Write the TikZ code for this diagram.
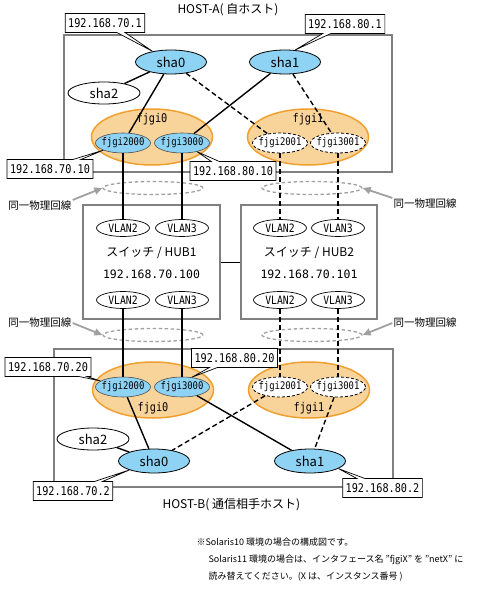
\documentclass[tikz,border=0pt]{standalone}
\usepackage{fontspec}
\setmainfont{Noto Sans CJK JP}
\newfontfamily\monofont[FakeStretch=0.85]{DejaVu Sans Mono}
\newfontfamily\ipfont{DejaVu Sans Mono}
\usetikzlibrary{shapes.geometric}
\usetikzlibrary{shapes.callouts}
\usetikzlibrary{arrows.meta}

\definecolor{shablue}{HTML}{8FD3F4}
\definecolor{grpfill}{HTML}{F9D49A}
\definecolor{grpline}{HTML}{F0A030}
\definecolor{boxgray}{HTML}{808080}
\definecolor{bungray}{HTML}{A0A0A0}

\newcommand{\zw}[1]{\makebox[0pt]{#1}}

\tikzset{
	hostbox/.style={draw=boxgray, line width=1.2pt, inner sep=0pt},
	shanode/.style={ellipse, draw, line width=0.8pt, fill=shablue, minimum width=71pt, minimum height=24pt, inner sep=0pt, font=\fontsize{13}{14}\selectfont},
	virtnode/.style={shanode, fill=white, minimum width=72pt, minimum height=22pt},
	grpnode/.style={ellipse, draw=grpline, line width=1.5pt, fill=grpfill, minimum width=121pt, minimum height=56pt, inner sep=0pt},
	grplabel/.style={font=\monofont\fontsize{12}{13}\selectfont, inner sep=0pt},
	portnode/.style={ellipse, draw=black!70, line width=0.6pt, fill=shablue, minimum width=55pt, minimum height=20pt, inner sep=0pt, font=\monofont\fontsize{10.5}{11}\selectfont},
	standbynode/.style={portnode, fill=white, draw=black, line width=0.8pt, dash pattern=on 3pt off 2pt},
	vlannode/.style={ellipse, draw, line width=0.7pt, fill=white, minimum width=53pt, minimum height=17pt, inner sep=0pt, font=\monofont\fontsize{11.5}{12}\selectfont},
	iptext/.style={font=\ipfont\fontsize{11.5}{12}\selectfont, inner sep=0pt},
	ipbox/.style={rectangle callout, draw, line width=0.7pt, fill=white, callout pointer width=8pt, inner xsep=3pt, inner ysep=2pt, minimum height=19pt, font=\monofont\fontsize{12}{13}\selectfont},
	bundle/.style={ellipse, draw=bungray, line width=1.3pt, dash pattern=on 3.5pt off 2.5pt, minimum width=100pt, minimum height=13pt},
	bunlabel/.style={font=\fontsize{10.5}{11}\selectfont, inner sep=1pt},
	bunarrow/.style={draw=bungray, line width=1.8pt, -{Triangle[length=8pt,width=7pt]}},
	active/.style={line width=1.4pt},
	standby/.style={line width=1.4pt, dash pattern=on 5pt off 3pt},
}

\begin{document}
\begin{tikzpicture}[x=1pt, y=-1pt]
	\useasboundingbox (0,0) rectangle (484,594);

	% hosts and switches
	\node[hostbox, minimum width=328pt, minimum height=137pt] (hosta) at (228,103.5) {};
	\node[hostbox, minimum width=339pt, minimum height=138pt] (hostb) at (223.5,418) {};
	\node[hostbox, minimum width=137pt, minimum height=114pt] (hub1) at (151.5,262) {};
	\node[hostbox, minimum width=136pt, minimum height=114pt] (hub2) at (309,262) {};
	\node[font=\fontsize{12}{13}\selectfont] (titlea) at (228,10) {HOST-A( 自ホスト)};
	\node[font=\fontsize{12}{13}\selectfont, anchor=west] (titleb) at (159,505) {HOST-B( 通信相手ホスト)};

	% HOST-A
	\node[shanode] (asha0) at (171,62) {sha0};
	\node[shanode] (asha1) at (285,62) {sha1};
	\node[virtnode] (asha2) at (104,93) {sha2};
	\node[grpnode] (agrp0) at (152,137) {};
	\node[grpnode] (agrp1) at (308,137) {};
	\node[grplabel] (agrp0l) at (152,119) {fjgi0};
	\node[grplabel] (agrp1l) at (308,119) {fjgi1};
	\node[portnode] (a2000) at (123,143) {\zw{fjgi2000}};
	\node[portnode] (a3000) at (182,143) {\zw{fjgi3000}};
	\node[standbynode] (a2001) at (280,143) {\zw{fjgi2001}};
	\node[standbynode] (a3001) at (338,143) {\zw{fjgi3001}};

	% switches
	\node[vlannode] (h1v2t) at (123,228) {VLAN2};
	\node[vlannode] (h1v3t) at (182,228) {VLAN3};
	\node[vlannode] (h1v2b) at (123,300) {VLAN2};
	\node[vlannode] (h1v3b) at (182,300) {VLAN3};
	\node[vlannode] (h2v2t) at (280,228) {VLAN2};
	\node[vlannode] (h2v3t) at (338,228) {VLAN3};
	\node[vlannode] (h2v2b) at (280,300) {VLAN2};
	\node[vlannode] (h2v3b) at (338,300) {VLAN3};
	\node[font=\fontsize{12}{13}\selectfont, inner sep=0pt] (hub1n) at (151.5,253) {スイッチ / HUB1};
	\node[iptext] (hub1ip) at (151.5,274) {192.168.70.100};
	\node[font=\fontsize{12}{13}\selectfont, inner sep=0pt] (hub2n) at (309,253) {スイッチ / HUB2};
	\node[iptext] (hub2ip) at (309,274) {192.168.70.101};

	% HOST-B
	\node[grpnode] (bgrp0) at (153,390) {};
	\node[grpnode] (bgrp1) at (309,390) {};
	\node[grplabel] (bgrp0l) at (153,408) {fjgi0};
	\node[grplabel] (bgrp1l) at (309,408) {fjgi1};
	\node[portnode] (b2000) at (123,387) {\zw{fjgi2000}};
	\node[portnode] (b3000) at (182,387) {\zw{fjgi3000}};
	\node[standbynode] (b2001) at (280,387) {\zw{fjgi2001}};
	\node[standbynode] (b3001) at (338,387) {\zw{fjgi3001}};
	\node[shanode] (bsha0) at (154,461) {sha0};
	\node[shanode] (bsha1) at (310,461) {sha1};
	\node[virtnode] (bsha2) at (93,439) {sha2};

	% same physical line
	\node[bundle] (bun1) at (153,188) {};
	\node[bundle] (bun2) at (312,188) {};
	\node[bundle] (bun3) at (153,335) {};
	\node[bundle] (bun4) at (312,335) {};
	\node[bunlabel] (lbl1) at (40,206) {同一物理回線};
	\node[bunlabel] (lbl2) at (425,204) {同一物理回線};
	\node[bunlabel] (lbl3) at (40,323) {同一物理回線};
	\node[bunlabel] (lbl4) at (425,323) {同一物理回線};
	\draw[bunarrow] (lbl1.north east) -- (bun1.west);
	\draw[bunarrow] (lbl2.north west) -- (bun2.east);
	\draw[bunarrow] (lbl3.east) -- (bun3.west);
	\draw[bunarrow] (lbl4.west) -- (bun4.east);

	% connections
	\draw[active] (asha0) -- (asha2);
	\draw[active] (asha0) -- (a2000);
	\draw[active] (asha1) -- (a3000);
	\draw[standby] (asha0) -- (a2001);
	\draw[standby] (asha1) -- (a3001);
	\draw[active] (a2000) -- (h1v2t);
	\draw[active] (a3000) -- (h1v3t);
	\draw[standby] (a2001) -- (h2v2t);
	\draw[standby] (a3001) -- (h2v3t);
	\draw[line width=0.8pt] (hub1) -- (hub2);
	\draw[active] (h1v2b) -- (b2000);
	\draw[active] (h1v3b) -- (b3000);
	\draw[standby] (h2v2b) -- (b2001);
	\draw[standby] (h2v3b) -- (b3001);
	\draw[active] (b2000) -- (bsha0);
	\draw[active] (b3000) -- (bsha1);
	\draw[standby] (b2001) -- (bsha0);
	\draw[standby] (b3001) -- (bsha1);
	\draw[active] (bsha2) -- (bsha0);

	% addresses
	\node[ipbox, callout absolute pointer={(asha0.150)}] (ipa0) at (105,23) {192.168.70.1};
	\node[ipbox, callout absolute pointer={(asha1.50)}] (ipa1) at (345,24) {192.168.80.1};
	\node[ipbox, callout absolute pointer={(a2000.200)}] (ipa2) at (50,169) {192.168.70.10};
	\node[ipbox, callout absolute pointer={(a3000.330)}] (ipa3) at (233,171) {192.168.80.10};
	\node[ipbox, callout absolute pointer={(b2000.165)}] (ipb2) at (48,367) {192.168.70.20};
	\node[ipbox, callout absolute pointer={(b3000.45)}] (ipb3) at (234.5,358) {192.168.80.20};
	\node[ipbox, callout absolute pointer={(bsha0.200)}] (ipb0) at (73,491) {192.168.70.2};
	\node[ipbox, callout absolute pointer={(bsha1.345)}] (ipb1) at (382.5,488) {192.168.80.2};

	% note
	\node[font=\fontsize{9}{10}\selectfont, anchor=west] (note1) at (193,542) {※Solaris10 環境の場合の構成図です。};
	\node[font=\fontsize{9}{10}\selectfont, anchor=west] (note2) at (205,560) {Solaris11 環境の場合は、インタフェース名 ”fjgiX” を ”netX” に};
	\node[font=\fontsize{9}{10}\selectfont, anchor=west] (note3) at (205,577) {読み替えてください。(X は、インスタンス番号 )};
\end{tikzpicture}
\end{document}
